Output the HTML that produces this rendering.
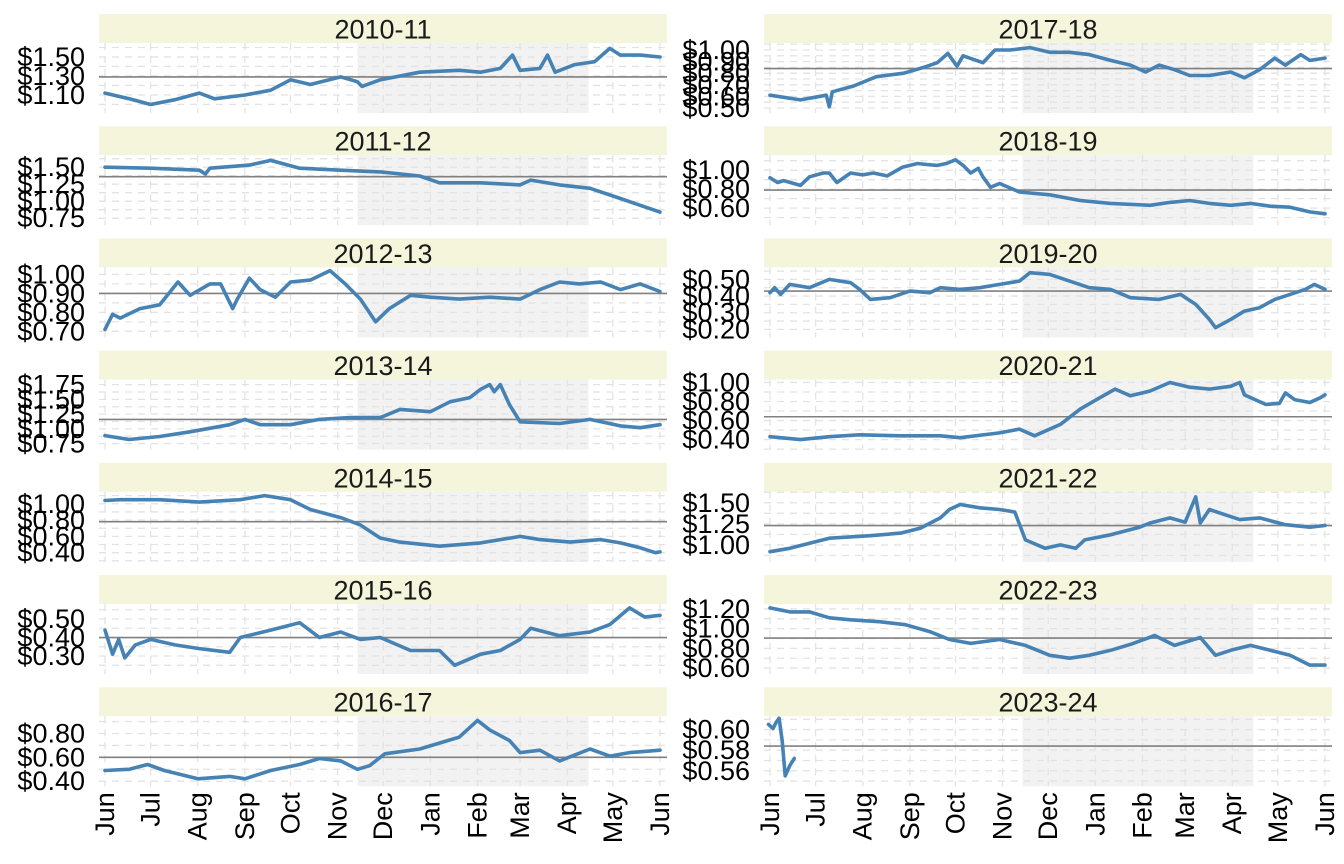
<!DOCTYPE html>
<html><head><meta charset="utf-8"><style>
html,body{margin:0;padding:0;background:#fff;}
svg{display:block;font-family:"Liberation Sans",Arial,sans-serif;}
</style></head><body>
<svg id="chart" width="1344" height="864" viewBox="0 0 1344 864" xmlns="http://www.w3.org/2000/svg"></svg>
<script>
const seasons = ["2010-11","2011-12","2012-13","2013-14","2014-15","2015-16","2016-17","2017-18","2018-19","2019-20","2020-21","2021-22","2022-23","2023-24"];
const monthLabels = ["Jun","Jul","Aug","Sep","Oct","Nov","Dec","Jan","Feb","Mar","Apr","May","Jun"];
const monthDays = [0,30,61,92,122,153,183,214,245,273,304,334,365];
const shadeDays = [166,318];

const d0 = [0,16,30,46,62,72,92,109,122,135,155,166,169,181,207,233,247,260,268,273,286,291,296,309,322,332,339,352,365];
const v0 = [1.12,1.06,1.00,1.05,1.12,1.06,1.10,1.15,1.26,1.21,1.29,1.24,1.19,1.26,1.34,1.36,1.34,1.38,1.52,1.36,1.38,1.52,1.34,1.42,1.45,1.59,1.52,1.52,1.50];
const d1 = [0,30,62,66,69,95,109,128,155,181,207,220,247,273,280,299,319,339,352,365];
const v1 = [1.50,1.485,1.456,1.40,1.485,1.53,1.60,1.485,1.456,1.43,1.37,1.27,1.27,1.24,1.31,1.24,1.19,1.04,0.94,0.84];
const d2 = [0,5,10,23,36,48,56,69,76,84,87,95,102,112,122,135,148,158,168,178,187,201,214,233,253,273,286,299,312,326,339,352,365];
const v2 = [0.71,0.79,0.77,0.82,0.84,0.96,0.89,0.95,0.95,0.82,0.87,0.98,0.92,0.88,0.96,0.97,1.02,0.95,0.87,0.75,0.82,0.89,0.88,0.87,0.88,0.87,0.92,0.96,0.95,0.96,0.92,0.95,0.91];
const d3 = [0,16,36,56,82,92,102,122,141,161,181,194,214,227,240,247,253,256,260,266,273,299,319,339,352,365];
const v3 = [0.886,0.82,0.87,0.95,1.07,1.16,1.07,1.07,1.16,1.19,1.19,1.33,1.29,1.46,1.53,1.67,1.75,1.63,1.75,1.41,1.12,1.09,1.16,1.05,1.02,1.07];
const d4 = [0,10,36,62,89,105,122,135,155,168,181,194,220,247,273,286,306,326,339,352,362,365];
const v4 = [1.04,1.05,1.05,1.02,1.05,1.10,1.05,0.93,0.83,0.74,0.58,0.53,0.48,0.52,0.60,0.56,0.53,0.56,0.52,0.46,0.40,0.41];
const d5 = [0,5,9,13,20,30,46,62,82,89,109,128,141,155,168,181,201,220,230,247,260,273,280,299,319,332,345,355,365];
const v5 = [0.44,0.31,0.39,0.29,0.36,0.39,0.36,0.34,0.32,0.40,0.44,0.48,0.40,0.43,0.39,0.40,0.33,0.33,0.25,0.31,0.33,0.39,0.45,0.41,0.43,0.47,0.56,0.51,0.52];
const d6 = [0,16,28,39,61,82,92,109,128,141,155,166,174,184,207,233,245,253,266,273,286,299,319,332,345,365];
const v6 = [0.49,0.50,0.54,0.49,0.42,0.44,0.42,0.49,0.54,0.59,0.57,0.50,0.53,0.63,0.67,0.77,0.91,0.83,0.74,0.64,0.66,0.57,0.67,0.61,0.64,0.66];
const d7 = [0,20,37,39,41,55,70,88,101,110,117,123,127,140,148,158,171,184,197,210,224,237,247,256,266,276,289,303,312,322,332,339,349,355,365];
const v7 = [0.61,0.57,0.61,0.51,0.64,0.69,0.77,0.80,0.85,0.89,0.97,0.86,0.95,0.89,1.00,1.00,1.02,0.98,0.98,0.96,0.91,0.87,0.81,0.87,0.83,0.78,0.78,0.81,0.76,0.83,0.93,0.87,0.96,0.91,0.93];
const d8 = [0,5,9,20,26,35,39,44,53,61,68,77,87,97,103,110,116,122,127,132,137,140,145,151,164,184,204,224,250,263,276,289,303,316,329,342,355,365];
const v8 = [0.92,0.87,0.89,0.84,0.93,0.97,0.97,0.87,0.97,0.95,0.97,0.94,1.03,1.07,1.06,1.05,1.07,1.11,1.05,0.97,1.02,0.93,0.82,0.86,0.77,0.74,0.68,0.65,0.63,0.66,0.68,0.65,0.63,0.65,0.62,0.61,0.56,0.54];
const d9 = [0,3,7,13,26,39,53,59,66,79,92,105,112,125,138,151,164,171,184,197,210,224,237,256,270,280,289,293,303,312,322,332,342,352,358,365];
const v9 = [0.42,0.45,0.41,0.47,0.45,0.50,0.48,0.44,0.38,0.39,0.43,0.42,0.45,0.44,0.45,0.47,0.49,0.54,0.53,0.49,0.45,0.44,0.39,0.38,0.41,0.35,0.26,0.21,0.26,0.31,0.33,0.38,0.41,0.44,0.47,0.44];
const d10 = [0,20,39,59,86,112,125,151,164,174,191,204,217,227,237,250,263,276,289,303,309,312,319,326,335,339,345,355,362,365];
const v10 = [0.43,0.40,0.43,0.45,0.44,0.44,0.42,0.47,0.51,0.44,0.56,0.72,0.84,0.93,0.86,0.91,1.00,0.95,0.93,0.96,1.00,0.87,0.82,0.77,0.78,0.89,0.82,0.79,0.84,0.87];
const d11 = [0,13,26,39,66,86,99,112,118,125,138,151,161,168,181,191,201,207,224,243,250,263,273,280,283,289,299,309,322,339,355,365];
const v11 = [0.92,0.96,1.02,1.08,1.11,1.14,1.20,1.32,1.42,1.48,1.44,1.42,1.39,1.06,0.96,1.00,0.96,1.06,1.12,1.21,1.26,1.32,1.27,1.57,1.26,1.42,1.36,1.30,1.32,1.24,1.21,1.23];
const d12 = [0,13,26,39,53,72,89,105,118,132,151,168,184,197,210,224,237,253,266,283,293,303,316,329,342,355,365];
const v12 = [1.21,1.17,1.17,1.11,1.09,1.07,1.04,0.97,0.89,0.85,0.89,0.83,0.73,0.70,0.73,0.78,0.84,0.93,0.83,0.91,0.73,0.78,0.83,0.78,0.73,0.63,0.63];
const d13 = [-1,2,4,6,8,10,13,16];
const v13 = [0.605,0.601,0.607,0.611,0.589,0.555,0.565,0.572];

const seriesDays = [d0,d1,d2,d3,d4,d5,d6,d7,d8,d9,d10,d11,d12,d13];
const seriesVals = [v0,v1,v2,v3,v4,v5,v6,v7,v8,v9,v10,v11,v12,v13];
const domainLo = [0.91,0.647,0.668,0.648,0.288,0.203,0.358,0.457,0.42,0.152,0.295,0.80,0.54,0.545];
const domainHi = [1.647,1.676,1.037,1.835,1.147,0.581,0.945,1.06,1.158,0.572,1.03,1.63,1.25,0.613];
const meanVals = [1.29,1.36,0.90,1.16,0.78,0.40,0.60,0.84,0.79,0.43,0.64,1.23,0.905,0.584];
const yTicks = [
  [1.1,1.3,1.5],[0.75,1.0,1.25,1.5],[0.7,0.8,0.9,1.0],[0.75,1.0,1.25,1.5,1.75],
  [0.4,0.6,0.8,1.0],[0.3,0.4,0.5],[0.4,0.6,0.8],
  [0.5,0.6,0.7,0.8,0.9,1.0],[0.6,0.8,1.0],[0.2,0.3,0.4,0.5],[0.4,0.6,0.8,1.0],
  [1.0,1.25,1.5],[0.6,0.8,1.0,1.2],[0.56,0.58,0.60]
];

const NS = "http://www.w3.org/2000/svg";
const svg = document.getElementById("chart");
function mk(tag, attrs, parent){
  const e = document.createElementNS(NS, tag);
  for (const k in attrs) e.setAttribute(k, attrs[k]);
  (parent||svg).appendChild(e);
  return e;
}
const colLeft = [99, 764];
const plotW = 568;
const pxPerDay = 1.5205;
const xOff = 6;
const stripH = 29, plotH = 70, rowPitch = 112.2, top0 = 14;
const FS = 27;

seasons.forEach((s, i) => {
  const col = i < 7 ? 0 : 1;
  const row = i % 7;
  const L = colLeft[col];
  const sTop = top0 + row * rowPitch;
  const pTop = sTop + stripH;
  const xs = d => L + xOff + d * pxPerDay;
  const ys = v => pTop + plotH - (v - domainLo[i]) / (domainHi[i] - domainLo[i]) * plotH;

  const g = mk("g", {});
  
  

  const strip = mk("rect", {x:L, y:sTop, width:plotW, height:stripH, fill:"#F5F5DC"}, g);
  
  
  const st = mk("text", {x:L + plotW/2, y:sTop + stripH/2 + 1, "text-anchor":"middle", "dominant-baseline":"central", "font-size":FS, fill:"#1a1a1a"}, g);
  st.textContent = s;
  
  

  const sh = mk("rect", {x:xs(shadeDays[0]), y:pTop, width:xs(shadeDays[1]) - xs(shadeDays[0]), height:plotH, fill:"#F2F2F2"}, g);
  
  

  monthDays.forEach(md => {
    const gl = mk("line", {x1:xs(md), x2:xs(md), y1:pTop, y2:pTop + plotH, stroke:"#E3E3E3", "stroke-width":"1.3", "stroke-dasharray":"7,6"}, g);
    
    
  });
  const t = yTicks[i];
  const gridVals = t.slice();
  for (let k = 0; k < t.length - 1; k++) gridVals.push((t[k] + t[k+1]) / 2);
  gridVals.push(t[0] - (t[1]-t[0])/2, t[t.length-1] + (t[1]-t[0])/2);
  gridVals.forEach(gv => {
    const y = ys(gv);
    if (y < pTop || y > pTop + plotH) return;
    const gl = mk("line", {x1:L, x2:L + plotW, y1:y, y2:y, stroke:"#E3E3E3", "stroke-width":"1.3", "stroke-dasharray":"7,6"}, g);
    
    
  });

  const ml = mk("line", {x1:L, x2:L + plotW, y1:ys(meanVals[i]), y2:ys(meanVals[i]), stroke:"#808080", "stroke-width":"1.6"}, g);
  
  

  const dd = seriesDays[i], vv = seriesVals[i];
  const pts = dd.map((d, k) => xs(d).toFixed(1) + "," + ys(vv[k]).toFixed(1)).join(" ");
  const pl = mk("polyline", {points:pts, fill:"none", stroke:"#4682B4", "stroke-width":"3.6", "stroke-linejoin":"round", "stroke-linecap":"round"}, g);
  
  

  t.forEach(tv => {
    const lab = mk("text", {x:L - 14, y:ys(tv), "text-anchor":"end", "dominant-baseline":"central", "font-size":FS, fill:"#000"}, g);
    lab.textContent = "$" + tv.toFixed(2);
    
    
  });

  if (row === 6) {
    monthLabels.forEach((m, k) => {
      const x = xs(monthDays[k]);
      const y = pTop + plotH + 6;
      const lab = mk("text", {x:x, y:y, transform:"rotate(-90 " + x + " " + y + ")", "text-anchor":"end", "dominant-baseline":"central", "font-size":FS, fill:"#000"}, g);
      lab.textContent = m;
      
      
    });
  }
});
</script>
</body></html>
